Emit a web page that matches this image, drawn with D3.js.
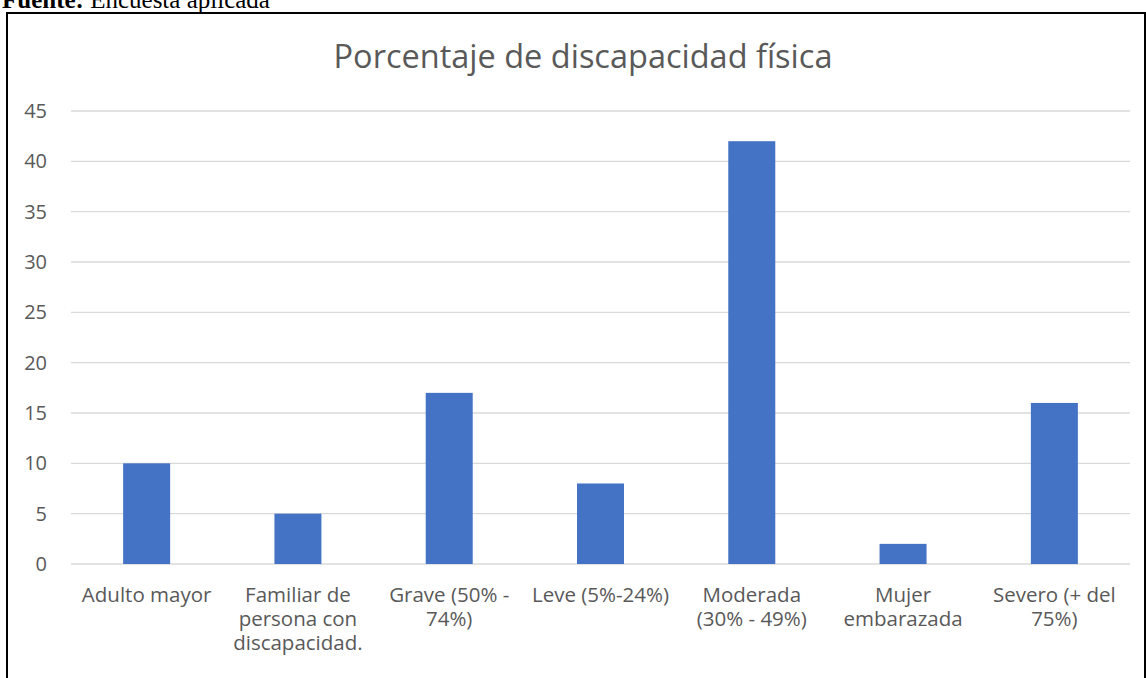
<!DOCTYPE html>
<html>
<head>
<meta charset="utf-8">
<script src="https://cdn.jsdelivr.net/npm/d3@7"></script>
<style>
  body { margin: 0; background: #fff; }
  svg { display: block; }
</style>
</head>
<body>
<div id="main"></div>
<script>
// data
const categories = ["Adulto mayor", "Familiar de\npersona con\ndiscapacidad.", "Grave (50% -\n74%)", "Leve (5%-24%)", "Moderada\n(30% - 49%)", "Mujer\nembarazada", "Severo (+ del\n75%)"];
const values = [10, 5, 17, 8, 42, 2, 16];
const yTicks = [0, 5, 10, 15, 20, 25, 30, 35, 40, 45];

const width = 1146, height = 678;
const plotLeft = 71, plotRight = 1130, plotTop = 111, plotBottom = 564;
const font = "'Open Sans', sans-serif";

const svg = d3.select('#main').append('svg')
  .attr('width', width).attr('height', height);

// source line above the frame (cut off at the top, as in the original)
const src = svg.append('text').attr('x', 2).attr('y', 8)
  .style('font-family', "'Liberation Serif', 'Times New Roman', serif")
  .style('font-size', '25px').attr('fill', '#000');
src.append('tspan').style('font-weight', 'bold').text('Fuente:');
src.append('tspan').text(' Encuesta aplicada');

// chart frame
svg.append('rect').attr('x', 7).attr('y', 13)
  .attr('width', 1138).attr('height', 700)
  .attr('fill', 'none').attr('stroke', '#000').attr('stroke-width', 2);

// title
svg.append('text').attr('x', 583).attr('y', 68)
  .attr('text-anchor', 'middle')
  .style('font-family', font).style('font-size', '32.5px')
  .attr('fill', '#595959').text('Porcentaje de discapacidad física');

// scales
const xScale = d3.scaleBand().domain(categories).range([plotLeft, plotRight]);
const yScale = d3.scaleLinear().domain([0, 45]).range([plotBottom, plotTop]);

// gridlines
svg.append('g').selectAll('line').data(yTicks).enter().append('line')
  .attr('x1', plotLeft).attr('x2', plotRight)
  .attr('y1', d => yScale(d)).attr('y2', d => yScale(d))
  .attr('stroke', '#d9d9d9').attr('stroke-width', 1.3);

// y axis labels
const yAxis = d3.axisLeft(yScale).tickValues(yTicks).tickSize(0).tickPadding(0);
const yg = svg.append('g').attr('transform', 'translate(47,0)').call(yAxis);
yg.select('.domain').remove();
yg.selectAll('text').style('font-family', font).style('font-size', '20px').attr('fill', '#595959');

// bars
const barW = 47;
svg.append('g').selectAll('rect').data(values).enter().append('rect')
  .attr('x', (d, i) => xScale(categories[i]) + (xScale.bandwidth() - barW) / 2)
  .attr('y', d => yScale(d))
  .attr('width', barW)
  .attr('height', d => yScale(0) - yScale(d))
  .attr('fill', '#4472c4');

// x labels, wrapped like the original
const xl = svg.append('g').selectAll('text').data(categories).enter().append('text')
  .attr('x', d => xScale(d) + xScale.bandwidth() / 2)
  .attr('y', 602)
  .attr('text-anchor', 'middle')
  .style('font-family', font).style('font-size', '20.5px').attr('fill', '#595959');
xl.each(function(d) {
  const t = d3.select(this);
  d.split('\n').forEach((line, i) => {
    t.append('tspan').attr('x', xScale(d) + xScale.bandwidth() / 2)
      .attr('dy', i === 0 ? 0 : 24).text(line);
  });
});
</script>
</body>
</html>
